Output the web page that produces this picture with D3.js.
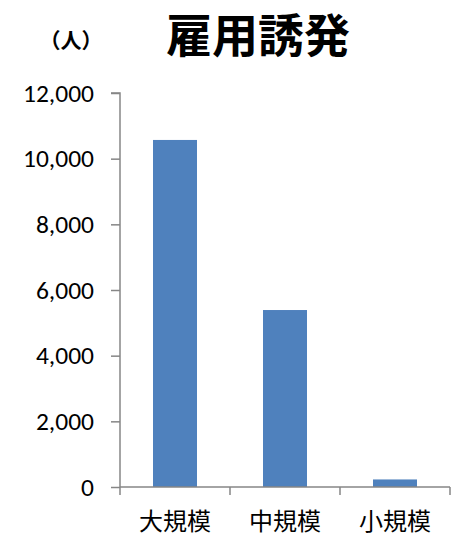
<!DOCTYPE html>
<html>
<head>
<meta charset="utf-8">
<script src="https://cdn.jsdelivr.net/npm/d3@7"></script>
<style>
  html, body { margin: 0; padding: 0; background: #fff; }
  svg { display: block; }
</style>
</head>
<body>
<svg id="chart" width="454" height="535"></svg>
<script>
// Employment induced by scale of business
const categories = ["大規模", "中規模", "小規模"];
const values = [10570, 5390, 230];
const yTicks = [0, 2000, 4000, 6000, 8000, 10000, 12000];
const title = "雇用誘発";
const unitLabel = "（人）";

const svg = d3.select("#chart");
const latin = "Calibri, Carlito, 'Liberation Sans', Arial, sans-serif";
const cjk = "'Noto Sans CJK JP', sans-serif";
const axisColor = "#868686";
const barColor = "#4F81BD";

const plot = { left: 120, right: 450, top: 93, bottom: 487 };

const x = d3.scaleBand()
  .domain(categories)
  .range([plot.left, plot.right])
  .padding(0);

const y = d3.scaleLinear()
  .domain([0, 12000])
  .range([plot.bottom, plot.top]);

// Bars: 40% of each category slot, centred
const barFrac = 0.4;
svg.append("g")
  .selectAll("rect")
  .data(categories.map((c, i) => ({ c, v: values[i] })))
  .join("rect")
  .attr("x", d => x(d.c) + x.bandwidth() * (1 - barFrac) / 2)
  .attr("width", x.bandwidth() * barFrac)
  .attr("y", d => y(d.v))
  .attr("height", d => y(0) - y(d.v))
  .attr("fill", barColor);

// Value axis
const yAxis = svg.append("g")
  .attr("transform", `translate(${plot.left},0)`)
  .call(d3.axisLeft(y).tickValues(yTicks).tickFormat(d3.format(",")).tickSize(9).tickPadding(17));
yAxis.select(".domain").attr("stroke", axisColor).attr("stroke-width", 1.5).attr("d", `M-9,${plot.top}H0V${plot.bottom}`);
yAxis.selectAll(".tick line").attr("stroke", axisColor).attr("stroke-width", 1.5);
yAxis.selectAll(".tick text")
  .attr("fill", "#000")
  .style("font-family", latin)
  .style("font-size", "25.5px");

// Category axis with boundary ticks between slots
const xAxisG = svg.append("g")
  .attr("transform", `translate(0,${plot.bottom})`);
xAxisG.append("line")
  .attr("x1", plot.left).attr("x2", plot.right)
  .attr("stroke", axisColor).attr("stroke-width", 1.5);
const bounds = categories.map(c => x(c)).concat([x(categories[categories.length - 1]) + x.bandwidth()]);
xAxisG.selectAll("line.bound")
  .data(bounds)
  .join("line")
  .attr("class", "bound")
  .attr("x1", d => d).attr("x2", d => d)
  .attr("y1", 0).attr("y2", 8)
  .attr("stroke", axisColor).attr("stroke-width", 1.5);
xAxisG.selectAll("text")
  .data(categories)
  .join("text")
  .attr("x", d => x(d) + x.bandwidth() / 2)
  .attr("y", 32)
  .attr("text-anchor", "middle")
  .attr("dominant-baseline", "central")
  .style("font-family", cjk)
  .style("font-size", "24px")
  .attr("fill", "#000")
  .text(d => d);

// Title and unit
svg.append("text")
  .attr("x", 258).attr("y", 32)
  .attr("text-anchor", "middle")
  .attr("dominant-baseline", "central")
  .style("font-family", cjk)
  .style("font-weight", "bold")
  .style("font-size", "46px")
  .attr("fill", "#000")
  .text(title);

svg.append("text")
  .attr("x", 71).attr("y", 39)
  .attr("text-anchor", "middle")
  .attr("dominant-baseline", "central")
  .style("font-family", cjk)
  .style("font-weight", "bold")
  .style("font-size", "21px")
  .attr("fill", "#000")
  .text(unitLabel);
</script>
</body>
</html>
